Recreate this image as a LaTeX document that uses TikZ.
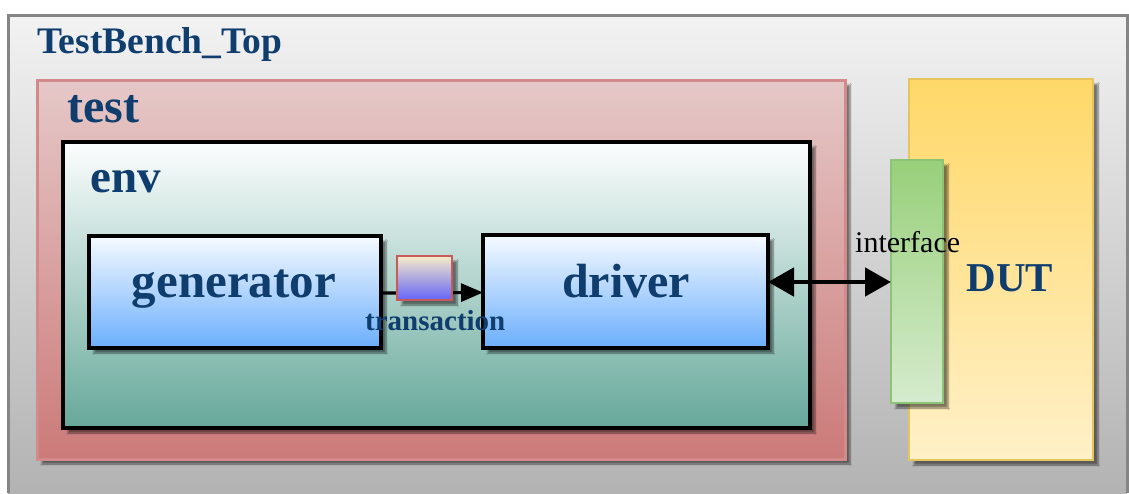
\documentclass[tikz,border=0pt]{standalone}
\usepackage{fontspec}
\setmainfont{Liberation Serif}
\usetikzlibrary{arrows.meta,shadows.blur}

\definecolor{lbl}{HTML}{0F3D6E}
\definecolor{frame}{HTML}{858585}
\definecolor{testedge}{HTML}{D38A8A}
\definecolor{dutedge}{HTML}{E6C45E}
\definecolor{ifedge}{HTML}{8CC476}
\definecolor{tredge}{HTML}{C85A5A}

\newcommand\fsz[1]{\fontsize{#1}{#1}\selectfont}

\tikzset{
  blk/.style={anchor=north west, inner sep=0pt, outer sep=0pt,
    blur shadow={shadow xshift=5pt, shadow yshift=-5pt,
      shadow blur steps=6, shadow opacity=50}},
  lbltext/.style={anchor=base west, inner sep=0pt, text=lbl, font=\bfseries},
  unitbox/.style={blk, draw=black, line width=3.2pt},
  flow/.style={line width=3.2pt, -{Triangle[length=22pt,width=18pt]}},
  bidir/.style={line width=4.8pt,
    {Triangle[length=26pt,width=28pt]}-{Triangle[length=26pt,width=28pt]}},
}

\begin{document}
\begin{tikzpicture}[x=1pt, y=-1pt]
  \useasboundingbox (0,0) rectangle (1129,493);

  % top-level frame
  \shade[top color=black!5, bottom color=black!30] (8,15) rectangle (1127,493);
  \draw[frame, line width=3pt] (8,493) -- (8,15) -- (1127,15) -- (1127,493);
  \node[lbltext, font=\bfseries\fsz{37.5}] (tbtop) at (37,53) {TestBench\_Top};

  % test
  \node[blk, minimum width=808pt, minimum height=379pt, draw=testedge, line width=3pt,
        top color={rgb,255:red,230;green,200;blue,200},
        bottom color={rgb,255:red,203;green,122;blue,120}] (test) at (37,80) {};
  \node[lbltext, font=\bfseries\fsz{48}] (testlbl) at (67,122) {test};

  % env
  \node[blk, minimum width=747pt, minimum height=286pt, draw=black, line width=3.2pt,
        top color={rgb,255:red,252;green,254;blue,254},
        bottom color={rgb,255:red,102;green,168;blue,154}] (env) at (63,142) {};
  \node[lbltext, font=\bfseries\fsz{47}] (envlbl) at (90,192) {env};

  % generator and driver
  \node[unitbox, minimum width=292pt, minimum height=112pt,
        top color={rgb,255:red,246;green,250;blue,255},
        bottom color={rgb,255:red,106;green,174;blue,252}] (gen) at (89,236) {};
  \node[unitbox, minimum width=285pt, minimum height=113pt,
        top color={rgb,255:red,246;green,250;blue,255},
        bottom color={rgb,255:red,106;green,174;blue,252}] (drv) at (483,235) {};
  \node[lbltext, anchor=base, font=\bfseries\fsz{49}] (genlbl) at (234,297) {generator};
  \node[lbltext, anchor=base, font=\bfseries\fsz{48}] (drvlbl) at (626,297) {driver};

  % DUT and its interface
  \node[blk, minimum width=184pt, minimum height=381pt, draw=dutedge, line width=2.6pt,
        top color={rgb,255:red,255;green,216;blue,104},
        bottom color={rgb,255:red,255;green,240;blue,200}] (dut) at (909,79) {};
  \node[lbltext, anchor=base, font=\bfseries\fsz{41}] (dutlbl) at (1010,291) {DUT};
  \node[blk, minimum width=52pt, minimum height=243pt, draw=ifedge, line width=2.6pt,
        top color={rgb,255:red,152;green,208;blue,122},
        bottom color={rgb,255:red,214;green,235;blue,206}] (intf) at (891,160) {};

  % connectors
  \draw[flow] ([yshift=-1pt]gen.east) -- ([yshift=-1pt]drv.west);
  \node[blk, minimum width=55pt, minimum height=44pt, draw=tredge, line width=2.8pt,
        top color={rgb,255:red,246;green,236;blue,200},
        bottom color={rgb,255:red,100;green,100;blue,248}] (trans) at (397,256) {};
  \draw[bidir] ([yshift=9.5pt]drv.east) coordinate (drvport) -- (drvport -| intf.west);

  % connector labels
  \node[lbltext, font=\bfseries\fsz{29}] (translbl) at (365,330) {transaction};
  \node[anchor=base west, inner sep=0pt, font=\fsz{30}] (intflbl) at (855,252) {interface};
\end{tikzpicture}
\end{document}
